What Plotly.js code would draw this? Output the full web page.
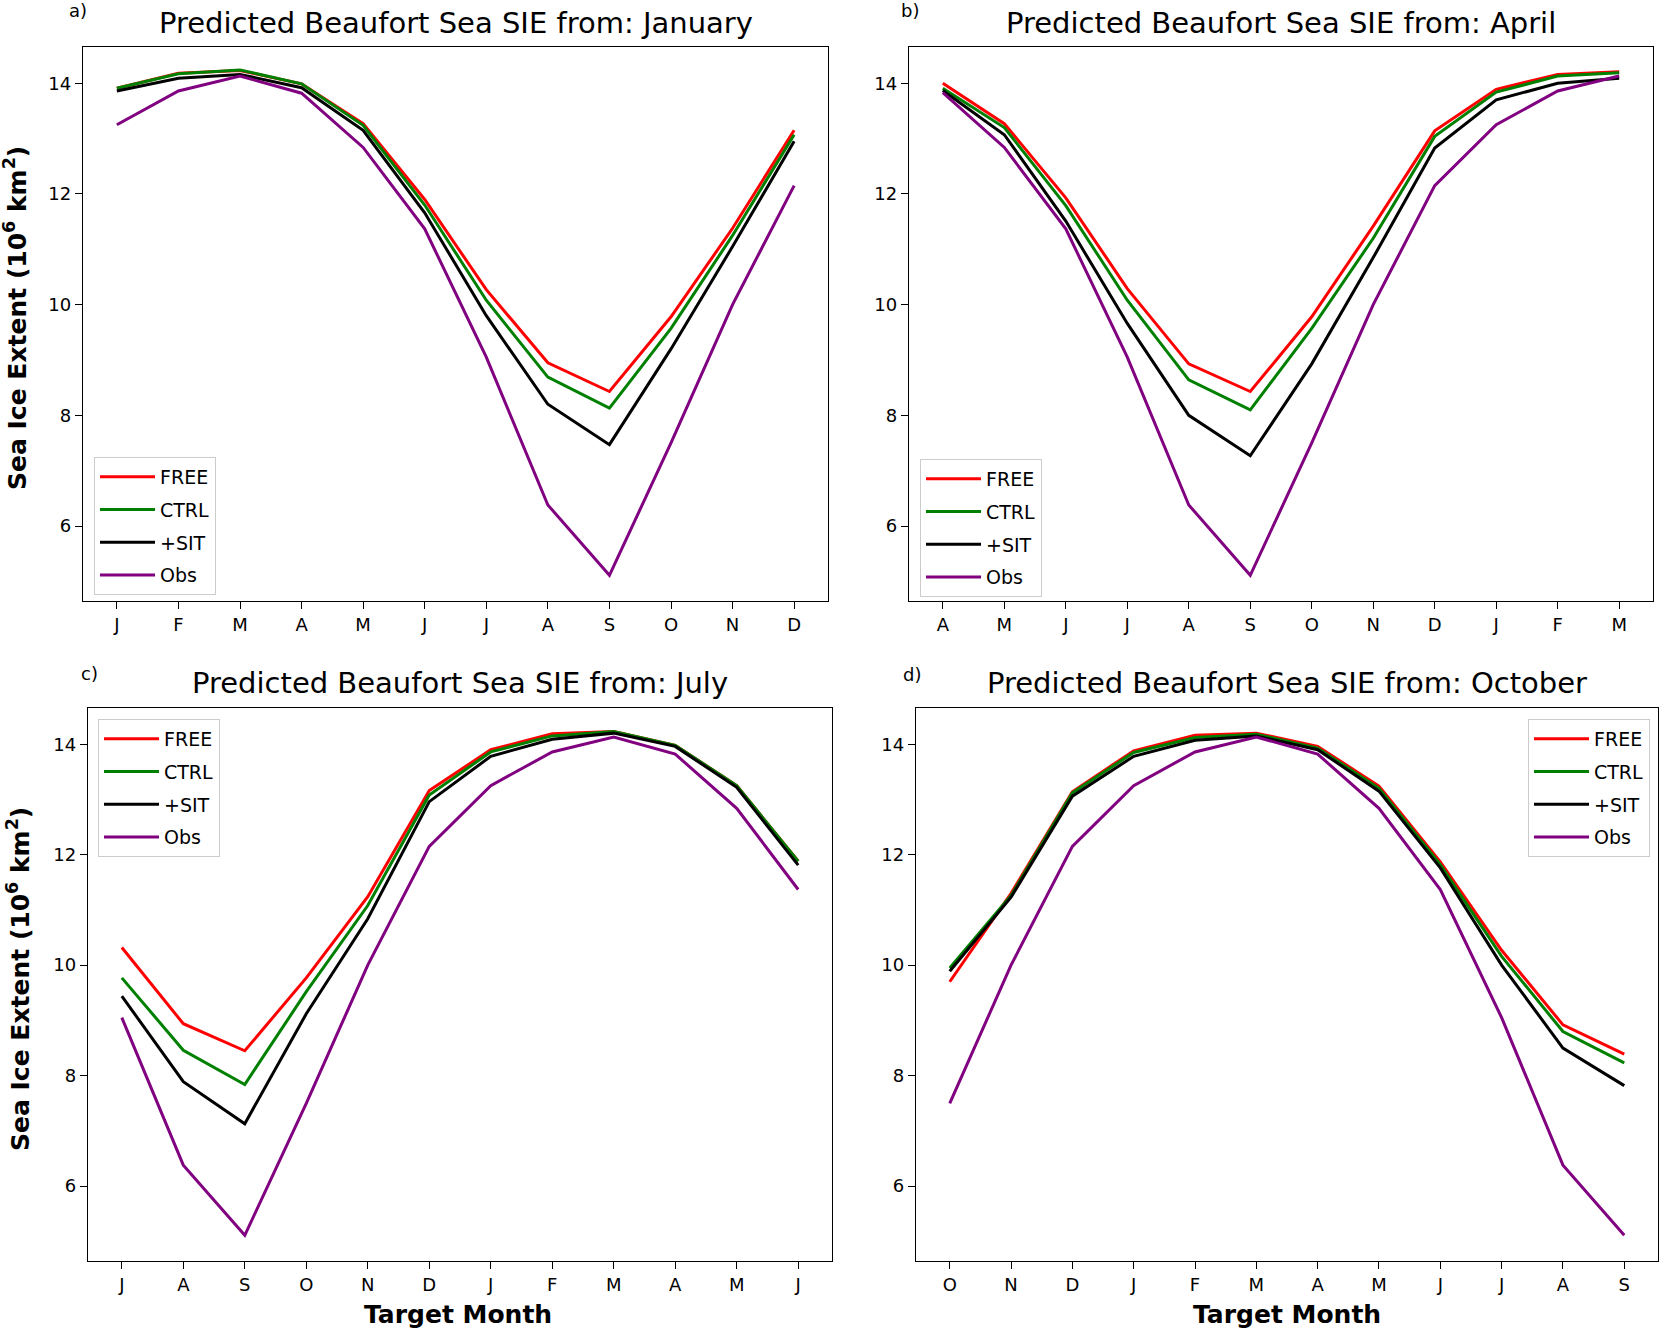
<!DOCTYPE html>
<html><head><meta charset="utf-8">
<script src="https://cdn.plot.ly/plotly-3.0.1.min.js"></script>
<style>html,body{margin:0;padding:0;background:#fff}</style>
</head><body><div id="chart" style="width:1663px;height:1331px"></div>
<script>
// Target month labels per initialisation month
const monthsA = ['J','F','M','A','M','J','J','A','S','O','N','D'];
const monthsB = ['A','M','J','J','A','S','O','N','D','J','F','M'];
const monthsC = ['J','A','S','O','N','D','J','F','M','A','M','J'];
const monthsD = ['O','N','D','J','F','M','A','M','J','J','A','S'];

const seriesNames = ['FREE','CTRL','+SIT','Obs'];
const seriesColors = ['#ff0000','#008000','#000000','#800080'];

// Panel a: from January
const freeA = [13.91, 14.18, 14.23, 13.99, 13.27, 11.90, 10.27, 8.95, 8.43, 9.78, 11.38, 13.15];
const ctrlA = [13.91, 14.17, 14.24, 13.99, 13.24, 11.80, 10.08, 8.69, 8.13, 9.57, 11.25, 13.07];
const sitA  = [13.86, 14.09, 14.16, 13.92, 13.15, 11.66, 9.80, 8.20, 7.47, 9.20, 11.05, 12.95];
const obsA  = [13.25, 13.86, 14.13, 13.82, 12.84, 11.37, 9.05, 6.38, 5.11, 7.50, 10.00, 12.15];

// Panel b: from April
const freeB = [14.00, 13.27, 11.93, 10.29, 8.93, 8.43, 9.78, 11.42, 13.14, 13.89, 14.16, 14.21];
const ctrlB = [13.91, 13.20, 11.79, 10.08, 8.64, 8.10, 9.57, 11.20, 13.04, 13.84, 14.13, 14.19];
const sitB  = [13.87, 13.07, 11.51, 9.66, 8.00, 7.27, 8.93, 10.85, 12.83, 13.70, 14.00, 14.09];
const obsB  = [13.83, 12.84, 11.37, 9.05, 6.38, 5.11, 7.50, 10.00, 12.15, 13.25, 13.86, 14.13];

// Panel c: from July
const freeC = [10.32, 8.94, 8.45, 9.77, 11.24, 13.16, 13.90, 14.19, 14.23, 13.98, 13.25, 11.88];
const ctrlC = [9.77, 8.46, 7.84, 9.52, 11.08, 13.08, 13.86, 14.15, 14.23, 13.98, 13.25, 11.88];
const sitC  = [9.44, 7.89, 7.13, 9.12, 10.84, 12.96, 13.78, 14.09, 14.20, 13.96, 13.22, 11.81];
const obsC  = [9.05, 6.38, 5.11, 7.50, 10.00, 12.15, 13.25, 13.86, 14.13, 13.82, 12.84, 11.37];

// Panel d: from October
const freeD = [9.70, 11.30, 13.14, 13.88, 14.16, 14.20, 13.96, 13.24, 11.87, 10.27, 8.92, 8.39];
const ctrlD = [9.95, 11.26, 13.12, 13.85, 14.12, 14.18, 13.93, 13.20, 11.82, 10.16, 8.80, 8.23];
const sitD  = [9.89, 11.23, 13.06, 13.78, 14.07, 14.15, 13.90, 13.15, 11.76, 10.00, 8.50, 7.82];
const obsD  = [7.50, 10.00, 12.15, 13.25, 13.86, 14.13, 13.82, 12.84, 11.37, 9.05, 6.38, 5.11];

const yTicks = [6, 8, 10, 12, 14];

const panels = [
  {labels: monthsA, data: [freeA, ctrlA, sitA, obsA], xa: 'x',  ya: 'y',  leg: 'legend'},
  {labels: monthsB, data: [freeB, ctrlB, sitB, obsB], xa: 'x2', ya: 'y2', leg: 'legend2'},
  {labels: monthsC, data: [freeC, ctrlC, sitC, obsC], xa: 'x3', ya: 'y3', leg: 'legend3'},
  {labels: monthsD, data: [freeD, ctrlD, sitD, obsD], xa: 'x4', ya: 'y4', leg: 'legend4'}
];

const traces = [];
panels.forEach(p => {
  const xs = p.labels.map((_, i) => i);
  p.data.forEach((vals, k) => {
    traces.push({
      type: 'scatter', mode: 'lines', x: xs, y: vals,
      name: seriesNames[k], xaxis: p.xa, yaxis: p.ya, legend: p.leg,
      legendgroup: p.leg + '_' + k,
      line: {color: seriesColors[k], width: 3}, hoverinfo: 'skip'
    });
  });
});

const W = 1663, H = 1331;
const px = v => v / W;
const py = v => 1 - v / H;
const tickFont = {family: 'DejaVu Sans', size: 18, color: '#000'};

function xax(d0, d1, labels, anchor) {
  return {domain: [px(d0), px(d1)], anchor: anchor, range: [-0.55, 11.55],
    tickmode: 'array', tickvals: labels.map((_, i) => i), ticktext: labels,
    ticks: 'outside', ticklen: 7, tickwidth: 1.3, tickcolor: '#000',
    showline: true, linecolor: '#000', linewidth: 1.3, mirror: true,
    showgrid: false, zeroline: false, tickfont: tickFont, fixedrange: true, automargin: false};
}
function yax(top, bottom, anchor) {
  return {domain: [py(bottom), py(top)], anchor: anchor, range: [4.645, 14.655],
    tickmode: 'array', tickvals: yTicks, ticktext: yTicks.map(String),
    ticks: 'outside', ticklen: 7, tickwidth: 1.3, tickcolor: '#000',
    showline: true, linecolor: '#000', linewidth: 1.3, mirror: true,
    showgrid: false, zeroline: false, tickfont: tickFont, fixedrange: true, automargin: false};
}
function leg(x, y, xanchor) {
  return {x: px(x), y: py(y), xanchor: xanchor, yanchor: 'top',
    bgcolor: 'rgba(255,255,255,0.8)', bordercolor: '#cccccc', borderwidth: 1,
    tracegroupgap: 5, itemwidth: 55,
    font: {family: 'DejaVu Sans', size: 19, color: '#000'}, itemclick: false, itemdoubleclick: false};
}

const titleFont = {family: 'DejaVu Sans', size: 29, color: '#000'};
const labFont = {family: 'DejaVu Sans', size: 18, color: '#000'};
const axFont = {family: 'DejaVu Sans', size: 25, color: '#000'};

function ann(text, x, y, font, extra) {
  return Object.assign({text: text, x: px(x), y: py(y), xref: 'paper', yref: 'paper',
    xanchor: 'center', yanchor: 'middle', showarrow: false, font: font}, extra || {});
}

const yTitle = '<b>Sea Ice Extent (10<sup>6</sup> km<sup>2</sup>)</b>';

const layout = {
  width: W, height: H, margin: {l: 0, r: 0, t: 0, b: 0},
  paper_bgcolor: '#fff', plot_bgcolor: '#fff', showlegend: true,
  xaxis: xax(83, 828, monthsA, 'y'),   yaxis: yax(47, 601, 'x'),
  xaxis2: xax(909, 1653, monthsB, 'y2'), yaxis2: yax(47, 601, 'x2'),
  xaxis3: xax(88, 832, monthsC, 'y3'),  yaxis3: yax(708, 1261, 'x3'),
  xaxis4: xax(916, 1658, monthsD, 'y4'), yaxis4: yax(708, 1261, 'x4'),
  legend: leg(94, 457, 'left'),
  legend2: leg(920, 459, 'left'),
  legend3: leg(98, 719, 'left'),
  legend4: leg(1650, 719, 'right'),
  annotations: [
    ann('Predicted Beaufort Sea SIE from: January', 455.5, 23, titleFont),
    ann('Predicted Beaufort Sea SIE from: April', 1281, 23, titleFont),
    ann('Predicted Beaufort Sea SIE from: July', 460, 683, titleFont),
    ann('Predicted Beaufort Sea SIE from: October', 1287, 683, titleFont),
    ann('a)', 78, 11, labFont),
    ann('b)', 910, 11, labFont),
    ann('c)', 89, 673, labFont),
    ann('d)', 912, 674, labFont),
    ann(yTitle, 16, 318, axFont, {textangle: -90}),
    ann(yTitle, 18, 979, axFont, {textangle: -90}),
    ann('<b>Target Month</b>', 458, 1314, axFont),
    ann('<b>Target Month</b>', 1287, 1314, axFont)
  ]
};

Plotly.newPlot('chart', traces, layout, {displayModeBar: false, staticPlot: false, responsive: false});
</script>
</body></html>
